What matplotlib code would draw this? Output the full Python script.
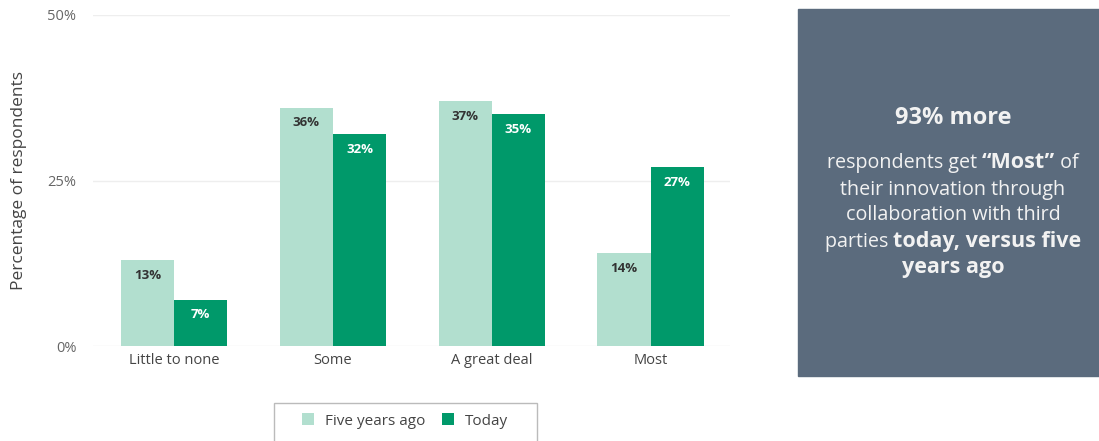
import numpy as np
import matplotlib.pyplot as plt
from matplotlib.patches import Rectangle

plt.rcParams['font.family'] = ['Open Sans', 'DejaVu Sans']

categories = ['Little to none', 'Some', 'A great deal', 'Most']
five_years_ago = [13, 36, 37, 14]
today = [7, 32, 35, 27]
yticks = [0, 25, 50]

light = '#b2dfcf'
dark = '#00996a'
panel = '#5b6b7d'

fig = plt.figure(figsize=(10.99, 4.41), dpi=100)
ax = fig.add_axes([93/1099, 1 - 346/441, (730-93)/1099, (346-15)/441])

x = np.arange(len(categories))
w = 0.335
b1 = ax.bar(x - w/2, five_years_ago, w, color=light, label='Five years ago', zorder=2)
b2 = ax.bar(x + w/2, today, w, color=dark, label='Today', zorder=2)

for bars, vals, tc in [(b1, five_years_ago, '#333333'), (b2, today, 'white')]:
    for rect, v in zip(bars, vals):
        ax.annotate('%d%%' % v, (rect.get_x() + rect.get_width()/2, v),
                    xytext=(0, -11), textcoords='offset points',
                    ha='center', va='center', fontsize=9.5, fontweight='bold', color=tc)

ax.set_xlim(-0.51, 3.5)
ax.set_ylim(0, 50)
ax.set_yticks(yticks)
ax.set_yticklabels(['%d%%' % t for t in yticks])
ax.set_xticks(x)
ax.set_xticklabels(categories)
ax.tick_params(length=0, colors='#444444', labelsize=10.5)
ax.tick_params(axis='y', pad=12, colors='#666666')
ax.tick_params(axis='x', pad=5)
ax.grid(axis='y', color='#eeeeee', linewidth=1, zorder=0)
for s in ax.spines.values():
    s.set_visible(False)
ax.set_ylabel('Percentage of respondents', fontsize=12.5, color='#444444', labelpad=15)

# legend (frame drawn separately)
leg = ax.legend(loc='center', bbox_to_anchor=(405/1099, 1 - 421/441), bbox_transform=fig.transFigure,
                ncol=2, frameon=False, fontsize=11, handlelength=0.8, handleheight=0.8,
                handletextpad=0.7, columnspacing=1.1, borderpad=0, borderaxespad=0,
                labelcolor='#444444')
fig.patches.append(Rectangle((274/1099, 1 - 448/441), (537-274)/1099, 45/441,
                             transform=fig.transFigure, facecolor='none',
                             edgecolor='#bbbbbb', linewidth=1))

# right panel
fig.patches.append(Rectangle((798/1099, 1 - 376/441), 1 - 798/1099, (376-9)/441,
                             transform=fig.transFigure, color=panel, zorder=0))

fig.text(953/1099, 1 - 118/441, '93% more', ha='center', va='center',
         fontsize=17, fontweight='bold', color='#f2f2f2')

lines = [
    [('respondents get ', 'normal'), ('\u201cMost\u201d', 'bold'), (' of', 'normal')],
    [('their innovation through', 'normal')],
    [('collaboration with third', 'normal')],
    [('parties ', 'normal'), ('today, versus five', 'bold')],
    [('years ago', 'bold')],
]
line_y = [163, 190, 215, 242, 268]

fig.canvas.draw()
renderer = fig.canvas.get_renderer()
cx = 953
for segs, yy in zip(lines, line_y):
    texts = []
    for s, wt in segs:
        fs = 14.2 if wt == 'normal' else 15.5
        t = fig.text(0, 1 - yy/441, s, ha='left', va='center', fontsize=fs,
                     fontweight=wt, color='#f2f2f2')
        texts.append(t)
    widths = [t.get_window_extent(renderer).width for t in texts]
    total = sum(widths)
    xx = cx - total/2
    for t, wd in zip(texts, widths):
        t.set_x(xx/1099)
        xx += wd

fig.savefig('out.png', dpi=100)
